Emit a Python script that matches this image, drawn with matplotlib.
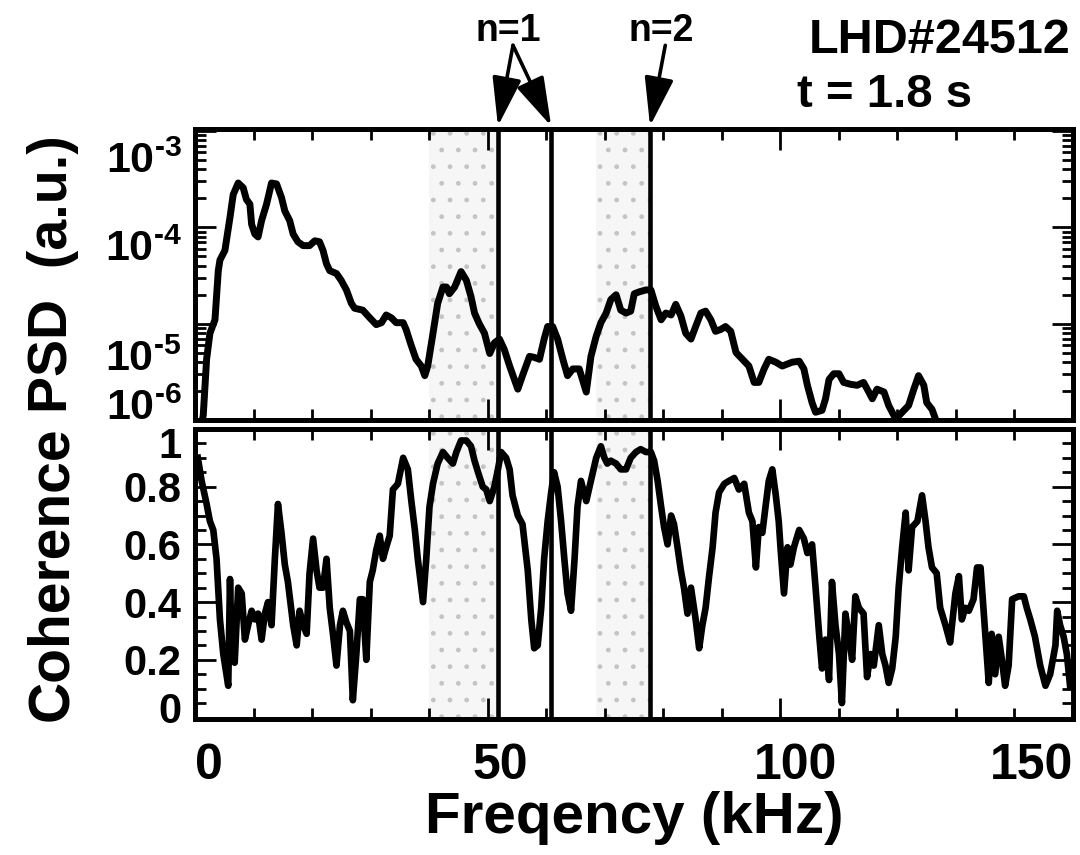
import numpy as np
import matplotlib
matplotlib.use('Agg')
import matplotlib.pyplot as plt
from matplotlib.ticker import MultipleLocator, LogLocator, NullFormatter
from matplotlib.transforms import ScaledTranslation

plt.rcParams['font.family'] = ['Liberation Sans', 'DejaVu Sans']
plt.rcParams['font.weight'] = 'bold'
plt.rcParams['mathtext.fontset'] = 'custom'
plt.rcParams['mathtext.rm'] = 'Liberation Sans:bold'
plt.rcParams['mathtext.default'] = 'rm'
plt.rcParams['hatch.linewidth'] = 1.0

# PSD, frequency in kHz and log10 of the power
psd_freq = [0.3, 1.33, 1.9, 2.47, 3.33, 3.9, 4.18, 5.03, 5.89, 6.45, 7.3, 8.16, 8.7, 9.3,
            9.6, 10.15, 10.7, 11.3, 12.15, 13.0, 13.86, 14.7, 15.27, 16.1, 16.7, 17.5, 18.4,
            19.5, 20.4, 21.2, 21.8, 22.4, 22.95, 24.1, 24.9, 25.8, 26.65, 27.2, 28.6, 29.8,
            30.9, 31.8, 32.6, 33.5, 34.3, 35.5, 36.0, 36.9, 37.7, 38.6, 39.2, 39.7, 40.6,
            41.4, 42.3, 42.9, 43.4, 44.3, 45.4, 46.3, 47.1, 47.7, 48.5, 49.4, 50.3, 51.1,
            51.96, 52.8, 53.7, 55.1, 55.9, 57.1, 57.9, 58.8, 59.6, 60.2, 61.06, 61.9, 62.8,
            63.6, 64.5, 65.6, 66.8, 67.6, 68.5, 69.3, 70.2, 71.0, 71.9, 72.7, 73.6, 74.4,
            75.0, 75.85, 77.0, 77.85, 78.7, 79.6, 80.4, 81.3, 82.1, 82.97, 83.8, 84.7, 85.5,
            86.4, 87.2, 88.1, 88.9, 89.8, 90.6, 91.5, 92.4, 93.5, 94.6, 95.5, 96.3, 97.2,
            98.0, 99.2, 100.3, 102.0, 103.2, 104.0, 104.6, 105.4, 106.0, 107.1, 107.7,
            108.3, 109.1, 110.0, 110.8, 112.0, 113.1, 114.2, 115.1, 115.7, 116.5, 117.7,
            118.5, 119.7, 120.8, 121.9, 122.8, 123.6, 124.5, 125.0, 125.9, 126.5, 127.5]
psd_exp = [-6.3, -5.95, -5.37, -5.10, -4.96, -4.45, -4.34, -4.24, -3.90, -3.66, -3.54, -3.59,
           -3.71, -3.76, -3.97, -4.07, -4.10, -3.93, -3.76, -3.54, -3.55, -3.69, -3.83, -3.93,
           -4.07, -4.15, -4.19, -4.19, -4.14, -4.15, -4.24, -4.38, -4.45, -4.48, -4.55, -4.65,
           -4.79, -4.84, -4.86, -4.94, -5.01, -4.99, -4.91, -4.94, -4.99, -4.99, -5.06, -5.23,
           -5.37, -5.44, -5.54, -5.44, -5.10, -4.79, -4.62, -4.62, -4.69, -4.62, -4.46, -4.55,
           -4.72, -4.89, -5.0, -5.1, -5.31, -5.20, -5.16, -5.27, -5.44, -5.68, -5.54, -5.34,
           -5.35, -5.37, -5.16, -5.03, -5.03, -5.16, -5.37, -5.54, -5.47, -5.47, -5.71, -5.34,
           -5.13, -4.99, -4.89, -4.75, -4.70, -4.86, -4.89, -4.87, -4.69, -4.67, -4.65, -4.65,
           -4.82, -4.96, -4.89, -4.91, -4.80, -4.92, -5.10, -5.16, -5.03, -4.89, -4.87, -4.96,
           -5.08, -5.06, -5.03, -5.08, -5.30, -5.37, -5.44, -5.61, -5.61, -5.47, -5.37, -5.40,
           -5.44, -5.40, -5.39, -5.47, -5.64, -5.82, -5.92, -5.90, -5.78, -5.58, -5.52, -5.52,
           -5.61, -5.63, -5.64, -5.61, -5.71, -5.78, -5.68, -5.71, -5.85, -5.99, -5.92, -5.85,
           -5.68, -5.54, -5.64, -5.82, -5.89, -5.99, -6.2]

coh_freq = [0.4, 1.05, 1.9, 2.47, 3.04, 3.6, 4.18, 4.75, 5.3, 5.6, 5.9, 6.2, 6.7, 7.3, 7.9,
            8.45, 9.0, 9.6, 10.15, 10.7, 11.3, 11.86, 12.4, 13.0, 13.57, 14.1, 14.7, 15.27,
            15.8, 16.7, 17.3, 17.8, 18.4, 19.0, 19.5, 20.1, 20.7, 21.2, 21.8, 22.4, 22.95,
            23.5, 24.1, 24.7, 25.2, 25.8, 26.4, 26.9, 27.5, 28.1, 28.6, 29.2, 29.8, 30.3,
            30.9, 31.5, 32.05, 32.6, 33.2, 33.75, 34.6, 35.5, 36.3, 36.9, 37.5, 38.0, 38.9,
            39.45, 40.0, 40.6, 41.4, 42.3, 43.1, 44.0, 44.6, 45.4, 46.3, 47.1, 47.7, 48.3,
            49.1, 49.7, 50.3, 51.1, 51.7, 52.25, 53.1, 53.7, 54.2, 55.1, 55.9, 56.8, 57.4,
            57.9, 58.5, 59.1, 59.6, 60.2, 60.8, 61.3, 61.9, 62.5, 63.05, 63.6, 64.2, 64.8,
            65.3, 65.9, 66.8, 67.6, 68.5, 69.3, 69.9, 70.4, 71.0, 71.9, 72.7, 73.6, 74.4,
            75.3, 76.1, 77.0, 77.85, 78.4, 79.0, 79.6, 80.1, 80.7, 81.3, 81.8, 82.4, 82.97,
            83.5, 84.1, 84.7, 85.5, 86.1, 86.65, 87.2, 87.8, 88.4, 88.9, 89.5, 90.4, 91.2,
            92.1, 92.9, 93.8, 94.6, 95.2, 95.8, 96.3, 96.9, 97.5, 98.0, 98.6, 99.2, 99.7,
            100.0, 100.6, 101.2, 101.7, 102.3, 103.2, 104.0, 104.6, 105.4, 106.0, 106.6,
            107.1, 107.7, 108.3, 108.8, 109.4, 110.0, 110.5, 111.1, 111.7, 112.25, 112.8,
            113.4, 114.2, 114.8, 115.4, 115.95, 116.8, 117.4, 117.95, 118.5, 119.1, 119.7,
            120.2, 120.8, 121.4, 121.9, 122.5, 123.4, 124.2, 124.8, 125.3, 125.9, 126.7,
            127.3, 128.2, 129.0, 129.9, 130.5, 131.0, 131.6, 132.2, 133.0, 133.6, 134.2,
            135.0, 135.6, 136.1, 136.7, 137.3, 137.85, 138.4, 139.0, 139.6, 140.7, 141.6,
            142.1, 142.7, 143.5, 144.4, 145.3, 146.1, 147.0, 147.3, 147.8, 148.4, 148.95,
            149.5]
coh_val = [0.90, 0.82, 0.74, 0.68, 0.65, 0.55, 0.34, 0.22, 0.15, 0.11, 0.48, 0.22, 0.19,
           0.45, 0.43, 0.27, 0.32, 0.37, 0.34, 0.36, 0.27, 0.36, 0.40, 0.32, 0.55, 0.74, 0.64,
           0.53, 0.47, 0.32, 0.25, 0.37, 0.32, 0.29, 0.50, 0.62, 0.51, 0.45, 0.45, 0.55, 0.38,
           0.29, 0.18, 0.32, 0.37, 0.33, 0.30, 0.06, 0.22, 0.41, 0.41, 0.20, 0.47, 0.51, 0.58,
           0.63, 0.55, 0.59, 0.63, 0.79, 0.81, 0.90, 0.86, 0.75, 0.65, 0.55, 0.40, 0.55, 0.73,
           0.81, 0.88, 0.92, 0.90, 0.88, 0.92, 0.96, 0.96, 0.94, 0.89, 0.85, 0.80, 0.79, 0.75,
           0.80, 0.86, 0.92, 0.90, 0.86, 0.77, 0.70, 0.67, 0.51, 0.34, 0.24, 0.25, 0.38, 0.55,
           0.68, 0.78, 0.85, 0.80, 0.68, 0.55, 0.43, 0.37, 0.55, 0.73, 0.82, 0.75, 0.82, 0.90,
           0.94, 0.90, 0.88, 0.89, 0.88, 0.86, 0.86, 0.90, 0.92, 0.93, 0.92, 0.92, 0.89, 0.82,
           0.73, 0.66, 0.60, 0.70, 0.67, 0.59, 0.51, 0.45, 0.36, 0.45, 0.34, 0.24, 0.32, 0.38,
           0.49, 0.59, 0.71, 0.78, 0.81, 0.82, 0.83, 0.79, 0.81, 0.71, 0.68, 0.52, 0.66, 0.64,
           0.74, 0.82, 0.86, 0.77, 0.68, 0.59, 0.43, 0.59, 0.53, 0.59, 0.65, 0.62, 0.57, 0.60,
           0.45, 0.29, 0.17, 0.27, 0.13, 0.47, 0.32, 0.22, 0.05, 0.36, 0.28, 0.20, 0.42, 0.38,
           0.36, 0.14, 0.22, 0.18, 0.32, 0.22, 0.18, 0.12, 0.17, 0.28, 0.45, 0.59, 0.71, 0.51,
           0.66, 0.68, 0.77, 0.68, 0.59, 0.52, 0.50, 0.38, 0.32, 0.26, 0.43, 0.49, 0.34, 0.38,
           0.37, 0.41, 0.52, 0.52, 0.29, 0.12, 0.29, 0.15, 0.28, 0.20, 0.11, 0.18, 0.41, 0.42,
           0.42, 0.38, 0.34, 0.28, 0.18, 0.11, 0.15, 0.25, 0.37, 0.32, 0.28, 0.22, 0.11]

# marked modes and shaded bands (kHz)
mode_lines = [51.7, 60.8, 77.7]
bands = [(40.0, 51.7), (68.5, 77.7)]

psd_ticks = [1e-6, 1e-5, 1e-4, 1e-3]
psd_labels = ['$10^{\u20106}$', '$10^{\u20105}$', '$10^{\u20104}$', '$10^{\u20103}$']
coh_ticks = [0, 0.2, 0.4, 0.6, 0.8, 1]
coh_labels = ['0', '0.2', '0.4', '0.6', '0.8', '1']
f_ticks = [0, 50, 100, 150]

fig = plt.figure(figsize=(10.8, 8.55), dpi=100)
ax1 = fig.add_axes([0.181, 0.5088, 0.8125, 0.3404])
ax2 = fig.add_axes([0.181, 0.1591, 0.8125, 0.3392])

for ax in (ax1, ax2):
	for b in bands:
		ax.axvspan(b[0], b[1], facecolor='#f6f6f6', edgecolor='#c4c4c4', hatch='.',
		           lw=0, zorder=0)
	for f in mode_lines:
		ax.axvline(f, color='black', lw=3.3, zorder=2)
	ax.set_xlim(0, 150)
	ax.set_xticks(f_ticks)
	ax.xaxis.set_minor_locator(MultipleLocator(10))
	for s in ax.spines.values():
		s.set_linewidth(3.6)
	ax.tick_params(which='both', direction='in', top=True, right=True, width=2)
	ax.tick_params(which='major', length=15)
	ax.tick_params(which='minor', length=8)

ax1.plot(psd_freq, 10 ** np.array(psd_exp), color='black', lw=5, zorder=3,
         solid_joinstyle='round')
ax1.set_yscale('log')
ax1.set_ylim(1e-6, 1.05e-3)
ax1.set_yticks(psd_ticks)
ax1.set_yticklabels(psd_labels)
ax1.yaxis.set_minor_locator(LogLocator(base=10, subs=np.arange(2, 10), numticks=20))
ax1.yaxis.set_minor_formatter(NullFormatter())
ax1.tick_params(axis='x', labelbottom=False)
ax1.tick_params(axis='y', labelsize=31, pad=10)
ax1.set_ylabel('PSD  (a.u.)', fontsize=40, fontweight='bold')

ax2.plot(coh_freq, coh_val, color='black', lw=4.8, zorder=3, solid_joinstyle='round')
ax2.set_ylim(-0.005, 1.0)
ax2.set_yticks(coh_ticks)
ax2.set_yticklabels(coh_labels)
ax2.yaxis.set_minor_locator(MultipleLocator(0.05))
ax2.set_xticklabels([str(t) for t in f_ticks])
ax2.tick_params(axis='y', labelsize=30, pad=10)
ax2.tick_params(axis='x', labelsize=36, pad=17)
ax2.set_ylabel('Coherence', fontsize=41, fontweight='bold')
ax2.set_xlabel('Freqency (kHz)', fontsize=42, fontweight='bold', labelpad=2)

ax1.yaxis.set_label_coords(-0.133, 0.5)
ax2.yaxis.set_label_coords(-0.133, 0.5)

xl = ax2.get_xticklabels()
xl[0].set_ha('left')
xl[-1].set_ha('right')


def nudge(label, dx, dy):
	# shift a tick label by dx, dy points (dy positive = down)
	label.set_transform(label.get_transform() +
	                    ScaledTranslation(dx / 72, -dy / 72, fig.dpi_scale_trans))


# the original places its tick labels a little off the ticks
for lab, dy in zip(ax1.get_yticklabels(), [-11, 23, 13, 19]):
	nudge(lab, 0, dy)
for lab, dy in zip(ax2.get_yticklabels(), [-7, 0, 0, 0, 0, 10]):
	nudge(lab, 0, dy)
for lab, dx in zip(ax2.get_xticklabels(), [0, 9, 11, 0]):
	nudge(lab, dx, 0)

# arrows from the mode labels to the lines
arrow = dict(arrowstyle='-|>,head_length=1.5,head_width=0.45', color='black', lw=2.6,
             shrinkA=0, shrinkB=0, mutation_scale=20)
n1_start = (0.475, 0.947)
n2_start = (0.616, 0.947)
for f, start in zip(mode_lines, [n1_start, n1_start, n2_start]):
	ax1.annotate('', xy=(f, 1.01), xycoords=('data', 'axes fraction'),
	             xytext=start, textcoords='figure fraction', arrowprops=arrow)

fig.text(0.471, 0.964, 'n=1', fontsize=27, fontweight='bold', ha='center', va='center')
fig.text(0.612, 0.964, 'n=2', fontsize=27, fontweight='bold', ha='center', va='center')
fig.text(0.991, 0.953, 'LHD#24512', fontsize=35, fontweight='bold', ha='right', va='center')
fig.text(0.738, 0.889, 't = 1.8 s', fontsize=34, fontweight='bold', ha='left', va='center')

fig.savefig('out.png', dpi=100)
plt.close(fig)
